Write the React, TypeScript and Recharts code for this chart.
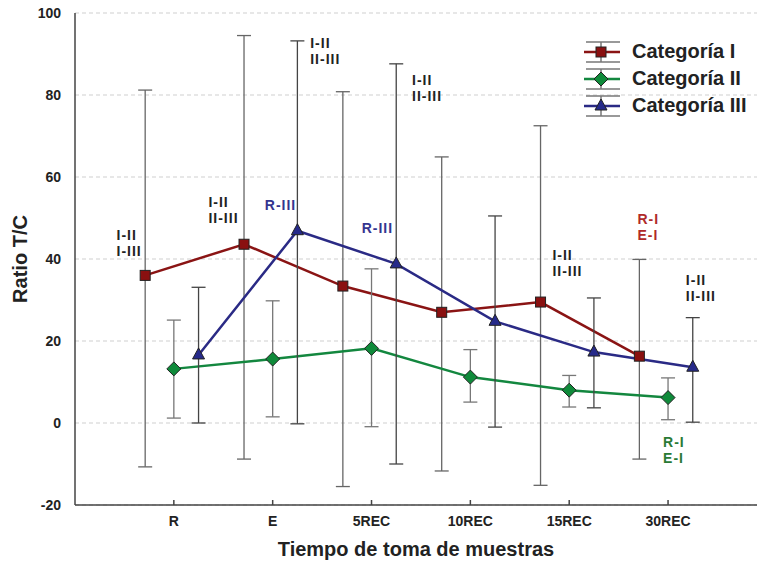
import React from 'react'
import { LineChart, Line, XAxis, YAxis, CartesianGrid, ErrorBar, Legend, ReferenceDot, Label } from 'recharts'

const categories = ['R', 'E', '5REC', '10REC', '15REC', '30REC']
const yTicks = [-20, 0, 20, 40, 60, 80, 100]

const catI = [36.0, 43.6, 33.4, 27.0, 29.5, 16.3]
const catIHigh = [81.2, 94.5, 80.8, 64.9, 72.5, 39.9]
const catILow = [-10.7, -8.8, -15.5, -11.7, -15.2, -8.8]

const catII = [13.2, 15.6, 18.2, 11.2, 8.0, 6.2]
const catIIHigh = [25.1, 29.8, 37.6, 17.9, 11.6, 11.0]
const catIILow = [1.2, 1.5, -0.9, 5.1, 3.9, 0.8]

const catIII = [16.6, 46.9, 38.8, 24.8, 17.3, 13.6]
const catIIIHigh = [33.1, 93.2, 87.6, 50.5, 30.5, 25.7]
const catIIILow = [0.0, -0.2, -10.0, -1.0, 3.7, 0.2]

// significance notes: x/y in data units (first line), lines of text
const notes = [
    { x: 0.42, y: 45.9, lines: ['I-II', 'I-III'], color: '#222' },
    { x: 1.35, y: 53.9, lines: ['I-II', 'II-III'], color: '#222' },
    { x: 1.92, y: 53.2, lines: ['R-III'], color: '#35358f' },
    { x: 2.38, y: 92.7, lines: ['I-II', 'II-III'], color: '#222' },
    { x: 2.9, y: 47.6, lines: ['R-III'], color: '#35358f' },
    { x: 3.41, y: 83.7, lines: ['I-II', 'II-III'], color: '#222' },
    { x: 4.83, y: 41.0, lines: ['I-II', 'II-III'], color: '#222' },
    { x: 5.69, y: 49.8, lines: ['R-I', 'E-I'], color: '#b02a2a' },
    { x: 6.18, y: 34.9, lines: ['I-II', 'II-III'], color: '#222' },
    { x: 5.95, y: -4.6, lines: ['R-I', 'E-I'], color: '#2a7a35' },
]

const FONT = '"Liberation Sans", Arial, sans-serif'

type Shape = 'square' | 'diamond' | 'triangle'

const toRows = (vals: number[], hi: number[], lo: number[], off: number) =>
    vals.map((v, i) => ({ x: i + 1 + off, y: v, err: [v - lo[i], hi[i] - v] }))

const series = [
    { name: 'Categoría I', rows: toRows(catI, catIHigh, catILow, -0.29), color: '#8a1414', fill: '#8a1010', shape: 'square' as Shape, err: '#666' },
    { name: 'Categoría II', rows: toRows(catII, catIIHigh, catIILow, 0), color: '#13873f', fill: '#0f8a3a', shape: 'diamond' as Shape, err: '#777' },
    { name: 'Categoría III', rows: toRows(catIII, catIIIHigh, catIIILow, 0.25), color: '#2a2a85', fill: '#262a8a', shape: 'triangle' as Shape, err: '#444' },
]

const Marker = ({ cx, cy, shape, fill }: { cx: number; cy: number; shape: Shape; fill: string }) => {
    if (shape === 'square') return <rect x={cx - 5} y={cy - 5} width={10} height={10} fill={fill} stroke="#222" strokeWidth={1} />
    if (shape === 'diamond') return <polygon points={`${cx},${cy - 7} ${cx + 7},${cy} ${cx},${cy + 7} ${cx - 7},${cy}`} fill={fill} stroke="#222" strokeWidth={1} />
    return <polygon points={`${cx},${cy - 7} ${cx + 6},${cy + 4} ${cx - 6},${cy + 4}`} fill={fill} stroke="#222" strokeWidth={1} />
}

const renderLegend = () => (
    <div style={{ fontFamily: FONT, fontWeight: 'bold', fontSize: 20, color: '#222' }}>
        {series.map(s => (
            <div key={s.name} style={{ display: 'flex', alignItems: 'center', height: 27 }}>
                <svg width={40} height={24} style={{ marginRight: 8 }}>
                    <line x1={2} y1={2} x2={36} y2={2} stroke="#777" strokeWidth={1.5} />
                    <line x1={2} y1={22} x2={36} y2={22} stroke="#777" strokeWidth={1.5} />
                    <line x1={17} y1={2} x2={17} y2={22} stroke="#777" strokeWidth={1.5} />
                    <line x1={0} y1={12} x2={36} y2={12} stroke={s.color} strokeWidth={2.5} />
                    <Marker cx={17} cy={12} shape={s.shape} fill={s.fill} />
                </svg>
                <span>{s.name}</span>
            </div>
        ))}
    </div>
)

const App = () => {
    return (
        <div style={{ position: 'absolute', left: 0, top: 0, background: '#fff' }}>
            <LineChart width={758} height={565} margin={{ top: 13, right: 1, bottom: 0, left: 0 }}>
                <CartesianGrid vertical={false} stroke="#cfcfcf" strokeDasharray="4 3" />
                <XAxis
                    xAxisId={0}
                    type="number"
                    dataKey="x"
                    domain={[0, 6.9]}
                    ticks={[1, 2, 3, 4, 5, 6]}
                    tickFormatter={(v: number) => categories[v - 1]}
                    height={60}
                    tickSize={-5}
                    tickMargin={16}
                    stroke="#444"
                    strokeWidth={1.5}
                    tick={{ fill: '#222', fontSize: 14, fontWeight: 'bold', fontFamily: FONT }}
                    allowDataOverflow
                >
                    <Label
                        content={({ viewBox }: any) => (
                            <text x={viewBox.x + viewBox.width / 2} y={556} textAnchor="middle" fontFamily={FONT} fontWeight="bold" fontSize={20} fill="#222">
                                Tiempo de toma de muestras
                            </text>
                        )}
                    />
                </XAxis>
                <XAxis
                    xAxisId="top"
                    orientation="top"
                    type="number"
                    domain={[0, 6.9]}
                    ticks={[1, 2, 3, 4, 5, 6]}
                    tickFormatter={() => ''}
                    height={0}
                    tickSize={-5}
                    stroke="#444"
                    strokeWidth={1.5}
                    allowDataOverflow
                />
                <YAxis
                    type="number"
                    domain={[-20, 100]}
                    ticks={yTicks}
                    width={75}
                    tickLine={false}
                    tickMargin={8}
                    stroke="#444"
                    strokeWidth={1.5}
                    tick={{ fill: '#222', fontSize: 14, fontWeight: 'bold', fontFamily: FONT }}
                >
                    <Label
                        content={({ viewBox }: any) => (
                            <text x={27} y={viewBox.y + viewBox.height / 2} transform={`rotate(-90, 27, ${viewBox.y + viewBox.height / 2})`} textAnchor="middle" fontFamily={FONT} fontWeight="bold" fontSize={20} fill="#222">
                                Ratio T/C
                            </text>
                        )}
                    />
                </YAxis>
                <Legend
                    layout="vertical"
                    align="center"
                    verticalAlign="middle"
                    content={renderLegend}
                    wrapperStyle={{ position: 'absolute', left: 584, top: 38, width: 170 }}
                />
                {series.map(s => (
                    <Line
                        key={s.name}
                        data={s.rows}
                        dataKey="y"
                        name={s.name}
                        type="linear"
                        stroke={s.color}
                        strokeWidth={2.5}
                        isAnimationActive={false}
                        activeDot={false}
                        dot={(p: any) => <Marker key={p.key ?? p.index} cx={p.cx} cy={p.cy} shape={s.shape} fill={s.fill} />}
                    >
                        <ErrorBar dataKey="err" direction="y" width={7} stroke={s.err} strokeWidth={1.3} isAnimationActive={false} />
                    </Line>
                ))}
                {notes.map((n, i) => (
                    <ReferenceDot
                        key={i}
                        x={n.x}
                        y={n.y}
                        r={0}
                        ifOverflow="visible"
                        shape={(p: any) => (
                            <text x={p.cx} y={p.cy} fontFamily={FONT} fontWeight="bold" fontSize={14} letterSpacing={1} fill={n.color} dominantBaseline="central">
                                {n.lines.map((l, j) => (
                                    <tspan key={j} x={p.cx} dy={j === 0 ? 0 : 16}>{l}</tspan>
                                ))}
                            </text>
                        )}
                    />
                ))}
            </LineChart>
        </div>
    )
}

export default App
